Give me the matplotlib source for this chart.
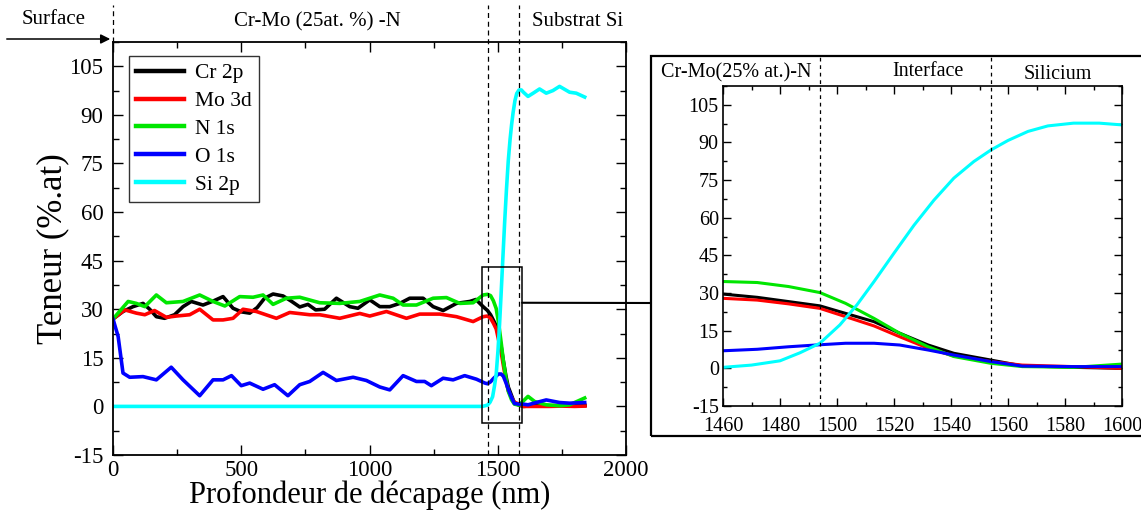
import matplotlib
matplotlib.use("Agg")
import matplotlib.pyplot as plt
from matplotlib.patches import Rectangle, ConnectionPatch, FancyArrowPatch
from matplotlib.ticker import MultipleLocator

plt.rcParams['font.family'] = ['Liberation Serif', 'DejaVu Serif']
plt.rcParams['axes.unicode_minus'] = False

# depth (nm) / content (%.at)
cr_depth = [0, 39, 78, 117, 143, 169, 201, 240, 273, 305, 351, 390, 429, 468, 500, 533, 562, 591, 624, 663,
            695, 728, 760, 790, 825, 871, 923, 955, 1001, 1040, 1079, 1118, 1157, 1209, 1248, 1287, 1339, 1391,
            1415, 1443, 1460, 1472, 1483, 1494, 1503, 1513, 1522, 1532, 1541, 1554, 1565, 1583, 1600, 1650,
            1700, 1750, 1800, 1840]
cr = [27, 29.3, 30.8, 31.8, 30, 27.7, 27.2, 28.3, 30.8, 32.4, 31.3, 32.5, 33.9, 30.3, 29.2, 28.8, 30.5, 33.4,
      34.7, 34.1, 32.5, 30.7, 31.5, 29.8, 30, 33.4, 30.8, 30.3, 32.9, 30.8, 30.8, 31.8, 33.4, 33.4, 30.8, 29.6,
      31.8, 32.4, 33, 30.8, 29.6, 28.3, 26.6, 24.9, 21.9, 18.6, 14, 9.3, 6, 3.3, 1, 0.4, 0, 0.3, 0.2, 0.3, 0.2,
      0.3]

mo_depth = [0, 46, 91, 124, 162, 208, 247, 299, 338, 390, 429, 468, 507, 559, 637, 689, 767, 806, 884, 962,
            1001, 1066, 1144, 1196, 1274, 1339, 1404, 1443, 1460, 1472, 1483, 1494, 1503, 1513, 1522, 1532,
            1541, 1554, 1565, 1583, 1600, 1650, 1700, 1750, 1800, 1840]
mo = [27, 29.8, 28.8, 28.3, 29.6, 27.5, 27.9, 28.3, 30, 26.7, 26.7, 27.2, 30, 29.3, 27.2, 29, 28.3, 28.3,
      27.2, 28.7, 27.9, 29.3, 27.2, 28.5, 28.5, 27.7, 26.2, 27.7, 27.9, 27.2, 25.7, 23.9, 20.6, 16.9, 12.6,
      8, 4.9, 2.7, 1.3, 0.7, 0, 0, 0, 0.1, 0, 0.1]

n_depth = [0, 59, 91, 124, 169, 208, 273, 338, 390, 436, 494, 546, 585, 624, 676, 728, 806, 884, 962, 1040,
           1092, 1131, 1183, 1248, 1300, 1352, 1404, 1443, 1460, 1472, 1483, 1494, 1503, 1513, 1522, 1532,
           1541, 1554, 1565, 1583, 1600, 1618, 1644, 1689, 1741, 1780, 1839]
n = [27, 32.4, 31.8, 30.8, 34.4, 32, 32.4, 34.4, 32.4, 31, 33.9, 33.7, 34.4, 31.5, 33.4, 33.7, 32, 31.8,
     32.4, 34.4, 33.4, 31.3, 31.3, 33.4, 33.6, 31.8, 32, 34.4, 34.6, 34.2, 32.6, 30.2, 25.9, 19.9, 14, 8.6,
     4.7, 2, 0.7, 0.4, 1.7, 3.1, 1.5, 0.5, 0.2, 0.5, 2.6]

o_depth = [0, 20, 39, 65, 117, 169, 227, 273, 338, 390, 429, 462, 500, 533, 585, 630, 682, 728, 767, 819,
           871, 936, 988, 1040, 1079, 1131, 1183, 1215, 1241, 1287, 1326, 1371, 1417, 1450, 1460, 1472, 1483,
           1494, 1503, 1513, 1522, 1532, 1541, 1554, 1565, 1583, 1600, 1618, 1650, 1689, 1741, 1780, 1839]
o = [27, 21.6, 10.3, 9, 9.2, 8.2, 12.1, 8.2, 3.3, 8.2, 8.2, 9.5, 6.4, 7.2, 5.3, 6.7, 3.3, 6.7, 7.7, 10.5,
     8, 9, 8, 6, 5.1, 9.5, 7.7, 7.7, 6.4, 8.7, 8.2, 9.5, 8.4, 7.2, 7, 7.6, 8.6, 9.4, 10, 10, 9.3, 7.3, 5.3,
     2.7, 0.9, 0.7, 0.7, 0.5, 1.2, 2, 1.2, 1, 1.2]

si_depth = [0, 1440, 1460, 1470, 1480, 1487, 1494, 1501, 1507, 1513, 1520, 1527, 1534, 1541, 1548, 1554,
            1560, 1567, 1574, 1583, 1592, 1600, 1618, 1640, 1663, 1689, 1715, 1741, 1780, 1806, 1839]
si = [0, 0, 0.4, 1.3, 3, 6.2, 10, 17.3, 25.3, 34.6, 45.9, 57, 67, 75.8, 82.4, 87, 90.8, 94.4, 96.6, 97.7,
      97.7, 97, 95.7, 96.8, 98, 96.7, 97.5, 98.8, 97, 96.7, 95.5]

series = [
    ("Cr 2p", cr_depth, cr, "black"),
    ("Mo 3d", mo_depth, mo, "#ff0000"),
    ("N 1s", n_depth, n, "#00e600"),
    ("O 1s", o_depth, o, "#0000ff"),
    ("Si 2p", si_depth, si, "#00ffff"),
]

main_lines = [0, 1462, 1582]      # surface / interface limits, main plot
zoom_lines = [1494, 1554]         # interface limits, zoom
zoom_box = (1440, -5, 155, 48)

W, H = 1141, 525
fig = plt.figure(figsize=(W / 100, H / 100), dpi=100)

ax = fig.add_axes([113 / W, 1 - 455 / H, 513 / W, 413 / H])
for label, x, y, c in series:
    ax.plot(x, y, color=c, lw=2.6, label=label)
ax.set_xlim(0, 2000)
ax.set_ylim(-15, 112.5)
ax.xaxis.set_major_locator(MultipleLocator(500))
ax.xaxis.set_minor_locator(MultipleLocator(250))
ax.yaxis.set_major_locator(MultipleLocator(15))
ax.yaxis.set_minor_locator(MultipleLocator(7.5))
ax.tick_params(which='both', direction='in', top=True, right=True, labelsize=16.5, width=1)
ax.tick_params(which='major', length=7)
ax.tick_params(which='minor', length=4)
ax.tick_params(axis='y', pad=7)
ax.set_xlabel("Profondeur de décapage (nm)", fontsize=22, labelpad=0)
ax.set_ylabel("Teneur (%.at)", fontsize=25, labelpad=0)
for s in ax.spines.values():
    s.set_linewidth(1.3)

leg = ax.legend(loc='upper left', bbox_to_anchor=(0.031, 0.967), fontsize=15.5, frameon=True, fancybox=False,
                edgecolor='black', handlelength=2.2, handletextpad=0.5, labelspacing=0.36, borderpad=0.35,
                borderaxespad=0)
leg.get_frame().set_linewidth(1.0)
for lh in leg.get_lines():
    lh.set_linewidth(3.2)

trans = ax.get_xaxis_transform()
ax.plot([main_lines[0]] * 2, [1.0, 1.09], transform=trans, color='black', ls=(0, (4, 3)), lw=0.9,
        clip_on=False)
for xv in main_lines[1:]:
    ax.plot([xv, xv], [0, 1.09], transform=trans, color='black', ls=(0, (4, 3)), lw=0.9, clip_on=False)

ax.add_patch(Rectangle(zoom_box[:2], zoom_box[2], zoom_box[3], fill=False, ec='black', lw=1.1, zorder=5))

fig.text(54 / W, 1 - 20 / H, "Surface", ha='center', va='center', fontsize=15)
fig.text(317 / W, 1 - 22 / H, "Cr-Mo (25at. %) -N", ha='center', va='center', fontsize=15)
fig.text(578 / W, 1 - 22 / H, "Substrat Si", ha='center', va='center', fontsize=15)
fig.add_artist(FancyArrowPatch((4 / W, 1 - 39 / H), (113 / W, 1 - 39 / H), transform=fig.transFigure,
                               arrowstyle='-|>', mutation_scale=14, lw=1.1, color='black'))

# zoomed interface
fig.add_artist(Rectangle((651 / W, 1 - 436 / H), (W + 10 - 651) / W, 380 / H, fill=False, ec='black',
                         lw=1.6, transform=fig.transFigure))
ax2 = fig.add_axes([723 / W, 1 - 406 / H, 399 / W, 320 / H])
for label, x, y, c in series:
    ax2.plot(x, y, color=c, lw=2.2)
ax2.set_xlim(1460, 1600)
ax2.set_ylim(-15, 112.5)
ax2.xaxis.set_major_locator(MultipleLocator(20))
ax2.xaxis.set_minor_locator(MultipleLocator(10))
ax2.yaxis.set_major_locator(MultipleLocator(15))
ax2.yaxis.set_minor_locator(MultipleLocator(7.5))
ax2.tick_params(which='both', direction='in', top=True, right=True, labelsize=14.5, width=1)
ax2.tick_params(which='major', length=6, pad=3)
ax2.tick_params(which='minor', length=3)
ax2.tick_params(axis='x', pad=8)
for s in ax2.spines.values():
    s.set_linewidth(1.2)

trans2 = ax2.get_xaxis_transform()
for xv in zoom_lines:
    ax2.plot([xv, xv], [0, 1.094], transform=trans2, color='black', ls=(0, (3, 3)), lw=0.9, clip_on=False)
ax2.text(1464.5, 1.04, "Cr-Mo(25% at.)-N", transform=trans2, ha='center', va='center', fontsize=14.5)
ax2.text(1532, 1.044, "Interface", transform=trans2, ha='center', va='center', fontsize=14.5)
ax2.text(1577.5, 1.037, "Silicium", transform=trans2, ha='center', va='center', fontsize=14.5)

con = ConnectionPatch(xyA=(zoom_box[0] + zoom_box[2], 32), coordsA=ax.transData,
                      xyB=(651 / W, 1 - 303 / H), coordsB=fig.transFigure, color='black', lw=1.5)
fig.add_artist(con)

fig.savefig("out.png", dpi=100)
